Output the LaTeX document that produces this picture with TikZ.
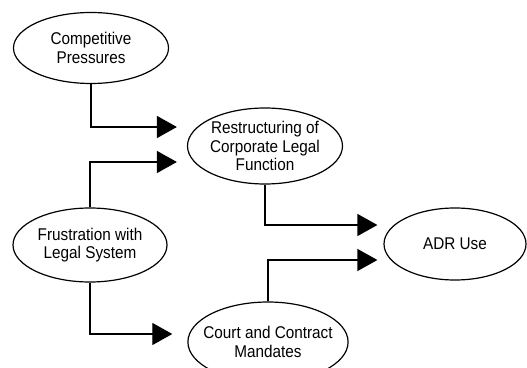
\documentclass[tikz,border=0pt]{standalone}
\usepackage{fontspec}
\setmainfont[FakeStretch=0.9]{Liberation Sans}
\usetikzlibrary{shapes.geometric, arrows.meta, positioning}

\tikzset{
  factor/.style={ellipse, draw, line width=1.2pt, inner sep=-8pt, align=center,
    font=\fontsize{17}{18.5}\selectfont},
  feed/.style={line width=1.2pt, -{Triangle[length=20pt,width=22pt]}}
}

\begin{document}
\begin{tikzpicture}[x=1pt,y=1pt]
    \useasboundingbox (0,0) rectangle (527,367);

    % Define the factors
    \node[factor, minimum width=155pt, minimum height=71pt] (cp) at (91,319) {Competitive\\Pressures};
    \node[factor, minimum width=154pt, minimum height=74pt] (fr) at (90,122) {Frustration with\\Legal System};
    \node[factor, minimum width=155pt, minimum height=76pt] (rs) at (265,221) {Restructuring of\\Corporate Legal\\Function};
    \node[factor, minimum width=153pt, minimum height=80pt] (ct) at (268,25) {Court and Contract\\Mandates};
    \node[factor, minimum width=142pt, minimum height=72pt] (adr) at (455,123) {ADR Use};

    % Draw the feeds into the restructuring
    \draw[feed] (cp.south) |- ([shift={(-10pt,19pt)}]rs.west);
    \draw[feed] (fr.north) |- ([shift={(-10pt,-16pt)}]rs.west);

    % Draw the feed into the mandates
    \draw[feed] (fr.south) |- ([shift={(-15pt,8pt)}]ct.west);

    % Draw the feeds into ADR use
    \draw[feed] (rs.south) |- ([shift={(-6pt,19pt)}]adr.west);
    \draw[feed] (ct.north) |- ([shift={(-6pt,-16pt)}]adr.west);

\end{tikzpicture}
\end{document}
